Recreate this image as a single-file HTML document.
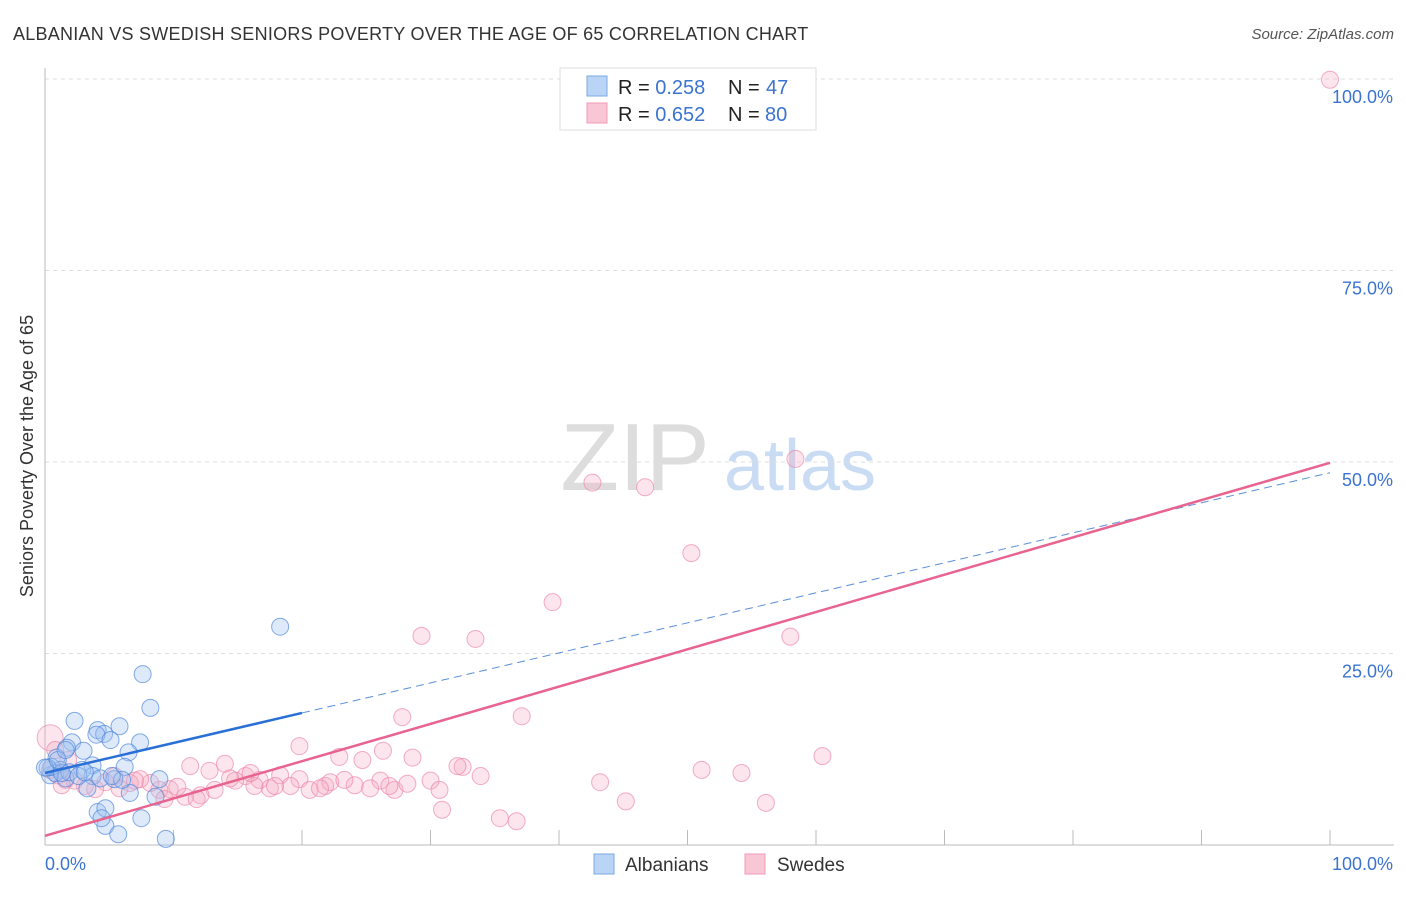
<!DOCTYPE html>
<html><head><meta charset="utf-8">
<style>
body{margin:0;background:#fff;font-family:"Liberation Sans",sans-serif;}
svg text{font-family:"Liberation Sans",sans-serif;}
</style></head>
<body>
<svg id="chart" width="1406" height="892" xmlns="http://www.w3.org/2000/svg">
<text x="13" y="40" font-size="18" fill="#333" letter-spacing="0.25">ALBANIAN VS SWEDISH SENIORS POVERTY OVER THE AGE OF 65 CORRELATION CHART</text>
<text x="1394" y="39" font-size="15" fill="#555" text-anchor="end" font-style="italic">Source: ZipAtlas.com</text>
<text transform="translate(33,456) rotate(-90)" font-size="18" fill="#333" text-anchor="middle">Seniors Poverty Over the Age of 65</text>
<g>
<text x="635" y="490" font-size="96" fill="#ddd" text-anchor="middle" font-family="Liberation Serif,serif">ZIP</text>
<text x="800" y="490" font-size="72" fill="#c9dcf3" text-anchor="middle">atlas</text>
</g>
<g id="grid"></g>
<g id="marks"></g>
<g id="lines"></g>
<g>
<rect x="560" y="68" width="256" height="62" fill="#fff" stroke="#ddd"/>
<rect x="587" y="76" width="20" height="20" fill="#b9d4f5" stroke="#7aa8e6"/>
<rect x="587" y="103" width="20" height="20" fill="#f9c6d5" stroke="#f09ab4"/>
<text x="618" y="94" font-size="20" fill="#222">R = <tspan fill="#3b73d1">0.258</tspan></text>
<text x="728" y="94" font-size="20" fill="#222">N = <tspan fill="#3b73d1" x="766">47</tspan></text>
<text x="618" y="121" font-size="20" fill="#222">R = <tspan fill="#3b73d1">0.652</tspan></text>
<text x="728" y="121" font-size="20" fill="#222">N = <tspan fill="#3b73d1" x="765">80</tspan></text>
</g>
<g>
<rect x="594" y="854" width="20" height="20" fill="#b9d4f5" stroke="#7aa8e6"/>
<text x="625" y="871" font-size="19" fill="#333">Albanians</text>
<rect x="745" y="854" width="20" height="20" fill="#f9c6d5" stroke="#f09ab4"/>
<text x="777" y="871" font-size="19" fill="#333">Swedes</text>
</g>
</svg>
<script>
const yTicks=[25,50,75,100];
const yTickLabels=["25.0%","50.0%","75.0%","100.0%"];
const xTickCount=10;
const blueX=[18.3,7.6,8.2,2.3,4.1,4.6,5.8,4.0,7.4,6.5,2.1,3.0,1.7,0.9,3.7,6.2,2.9,3.7,1.2,0.4,0.8,3.3,6.6,8.9,8.6,4.1,4.7,4.7,4.4,5.7,7.5,9.4,0.5,1.6,1.9,0.2,2.6,4.3,5.4,6.0,0,1.3,3.1,5.2,1.0,1.6,5.1];
const blueY=[28.5,22.3,17.9,16.2,15.0,14.5,15.5,14.4,13.4,12.1,13.4,12.3,12.7,11.4,10.4,10.2,9.8,9.0,9.8,9.1,9.4,7.4,6.8,8.6,6.3,4.3,4.8,2.5,3.5,1.4,3.5,0.8,10.2,8.7,9.5,10.1,9.0,8.7,8.6,8.5,10.1,9.4,9.5,9.0,11.1,12.4,13.7];
const pinkX=[100,58.4,42.6,46.7,50.3,39.5,29.3,33.5,58.0,27.8,37.1,60.5,19.8,22.9,26.3,28.6,32.5,32.1,33.9,43.2,51.1,54.2,45.2,56.1,30.9,35.4,36.7,0.4,0.8,1.8,11.3,12.8,14.0,15.6,16.7,18.3,19.8,21.8,24.1,26.1,27.2,30.0,28.2,24.7,22.2,20.6,19.1,17.5,16.3,14.8,13.2,12.1,10.9,9.7,8.9,8.2,7.4,6.6,5.4,4.7,3.9,3.1,2.3,1.6,1.0,0.4,5.8,7.0,9.3,10.3,11.8,14.4,16.0,17.9,21.4,23.3,25.3,26.8,30.7,1.3];
const pinkY=[99.9,50.4,47.3,46.7,38.1,31.7,27.3,26.9,27.2,16.7,16.8,11.6,12.9,11.5,12.3,11.4,10.2,10.3,9.0,8.2,9.8,9.4,5.7,5.5,4.6,3.5,3.1,14.0,12.4,11.1,10.3,9.7,10.6,9.0,8.5,9.1,8.6,7.7,7.8,8.4,7.2,8.4,8.0,11.1,8.2,7.2,7.7,7.4,7.7,8.4,7.2,6.5,6.3,7.3,7.2,8.1,8.6,8.1,9.0,8.2,7.3,7.7,8.4,8.5,9.1,9.8,7.4,8.4,6.0,7.6,6.0,8.7,9.4,7.7,7.4,8.5,7.4,7.7,7.2,7.8];
const blueTrend=[9.4,48.6];
const pinkTrend=[1.2,49.9];
const blueSolidEnd=20;

const NS="http://www.w3.org/2000/svg";
const X0=45,X1=1330,Y0=845,Y100=79;
const sx=v=>X0+(X1-X0)*v/100;
const sy=v=>Y0-(Y0-Y100)*v/100;
function mk(tag,attrs,parent){const e=document.createElementNS(NS,tag);for(const k in attrs)e.setAttribute(k,attrs[k]);parent.appendChild(e);return e;}
const grid=document.getElementById('grid');
const marks=document.getElementById('marks');
const lines=document.getElementById('lines');
yTicks.forEach((t,i)=>{
  const g=mk('line',{x1:X0,x2:1394,y1:sy(t),y2:sy(t),stroke:'#ddd','stroke-dasharray':'4,4'},grid);
  
  
  const l=mk('text',{x:1393,y:sy(t)+24,'font-size':18,fill:'#3b73d1','text-anchor':'end'},grid);
  l.textContent=yTickLabels[i];
  
  
});
const ax=mk('line',{x1:X0,x2:X0,y1:68,y2:Y0,stroke:'#bbb'},grid);


const bx=mk('line',{x1:X0,x2:1394,y1:Y0,y2:Y0,stroke:'#bbb'},grid);


for(let i=1;i<=xTickCount;i++){
  const t=mk('line',{x1:sx(i*10),x2:sx(i*10),y1:Y0-15,y2:Y0,stroke:'#bbb'},grid);
  
  
}
const xl0=mk('text',{x:45,y:870,'font-size':18,fill:'#3b73d1'},grid);xl0.textContent='0.0%';


const xl1=mk('text',{x:1393,y:870,'font-size':18,fill:'#3b73d1','text-anchor':'end'},grid);xl1.textContent='100.0%';



pinkX.forEach((v,i)=>{
  const c=mk('circle',{cx:sx(v),cy:sy(pinkY[i]),r:(i==27?13:8.5),fill:'rgba(246,170,195,0.3)',stroke:'rgba(236,130,165,0.65)','stroke-width':1},marks);
  
  
});
blueX.forEach((v,i)=>{
  const c=mk('circle',{cx:sx(v),cy:sy(blueY[i]),r:8.5,fill:'rgba(160,196,240,0.35)',stroke:'rgba(80,135,220,0.7)','stroke-width':1},marks);
  
  
});
const by=x=>blueTrend[0]+(blueTrend[1]-blueTrend[0])*x/100;
const py=x=>pinkTrend[0]+(pinkTrend[1]-pinkTrend[0])*x/100;
const b1=mk('line',{x1:sx(0),y1:sy(by(0)),x2:sx(blueSolidEnd),y2:sy(by(blueSolidEnd)),stroke:'#2a6fd6','stroke-width':2.5},lines);


const b2=mk('line',{x1:sx(blueSolidEnd),y1:sy(by(blueSolidEnd)),x2:sx(100),y2:sy(by(100)),stroke:'#5b8fdc','stroke-width':1,'stroke-dasharray':'8,5'},lines);


const p1=mk('line',{x1:sx(0),y1:sy(py(0)),x2:sx(100),y2:sy(py(100)),stroke:'#e8648f','stroke-width':2.5},lines);


</script>
</body></html>
